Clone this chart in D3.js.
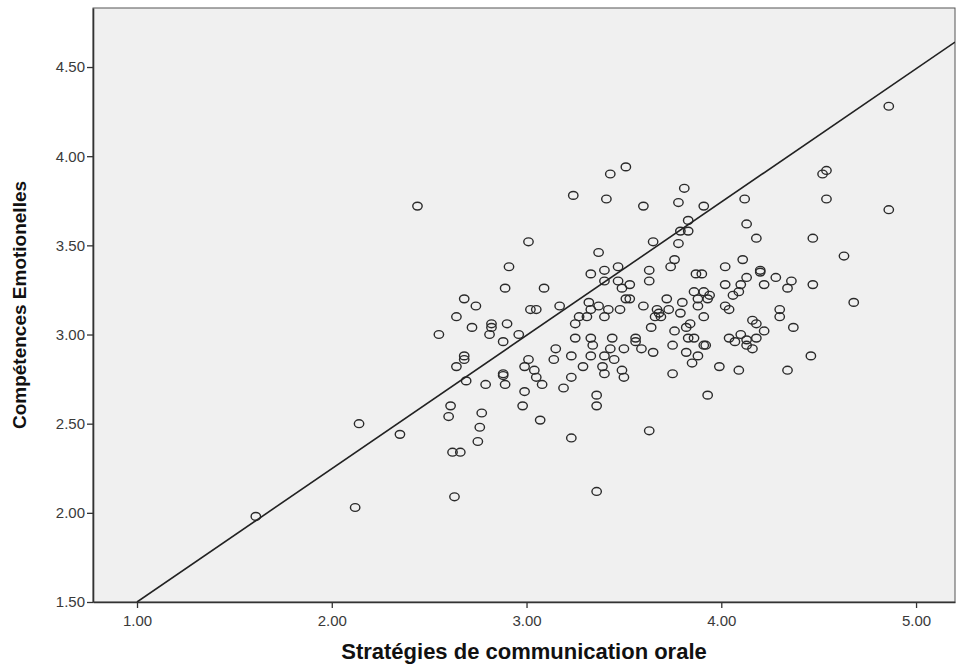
<!DOCTYPE html>
<html>
<head>
<meta charset="utf-8">
<script src="https://cdn.jsdelivr.net/npm/d3@7"></script>
<style>
  body { margin: 0; background: #fff; }
  svg { display: block; font-family: "Liberation Sans", Arial, sans-serif; }
</style>
</head>
<body>
<div id="chart"></div>
<script>
// Stratégies de communication orale (x) vs Compétences Emotionelles (y)
const strategies = [
  1.61, 2.12, 2.14, 2.35, 2.63, 2.61, 2.60, 2.77, 2.76, 2.75, 2.62, 2.66, 2.98, 2.44, 3.01, 2.91,
  2.89, 2.68, 2.74, 2.64, 2.72, 2.82, 2.82, 2.81, 2.90, 2.96, 2.88, 2.55, 2.68, 2.68, 2.64, 2.88,
  2.88, 2.99, 3.01, 2.69, 2.79, 2.89, 2.99, 3.24, 3.43, 3.51, 3.41, 3.60, 3.81, 3.78, 3.91, 3.83,
  3.79, 3.83, 3.65, 3.78, 4.54, 4.52, 4.54, 4.86, 4.12, 4.13, 4.18, 4.47, 4.86, 3.37, 3.47, 3.40,
  3.33, 3.76, 3.74, 3.63, 3.63, 3.40, 3.47, 3.49, 3.53, 3.09, 3.17, 3.02, 3.05, 3.32, 3.37, 3.42,
  3.33, 3.40, 3.48, 3.51, 3.53, 3.60, 3.72, 3.80, 3.73, 3.67, 3.68, 3.66, 3.69, 3.79, 3.27, 3.31,
  3.25, 3.64, 3.76, 3.82, 3.84, 3.25, 3.33, 3.34, 3.44, 3.43, 3.56, 3.56, 3.50, 3.59, 3.75, 3.83,
  3.86, 3.92, 3.91, 3.82, 3.65, 3.15, 3.14, 3.23, 3.33, 3.40, 3.45, 3.85, 3.88, 3.87, 3.90, 4.02,
  4.02, 3.86, 3.91, 3.94, 3.93, 3.88, 3.88, 4.02, 4.04, 3.91, 4.04, 4.63, 4.11, 4.20, 4.20, 4.13,
  4.28, 4.36, 4.34, 4.22, 4.47, 4.10, 4.09, 4.06, 4.68, 4.30, 4.30, 4.16, 4.18, 4.22, 4.37, 4.10,
  4.07, 4.13, 4.18, 4.13, 4.16, 4.46, 3.04, 3.05, 3.08, 3.19, 3.23, 3.29, 3.39, 3.40, 3.49, 3.50,
  3.36, 3.36, 3.07, 3.23, 3.63, 3.75, 3.99, 3.93, 4.09, 4.34, 3.36
];
const competences = [
  1.98, 2.03, 2.50, 2.44, 2.09, 2.60, 2.54, 2.56, 2.48, 2.40, 2.34, 2.34, 2.60, 3.72, 3.52, 3.38,
  3.26, 3.20, 3.16, 3.10, 3.04, 3.06, 3.04, 3.00, 3.06, 3.00, 2.96, 3.00, 2.88, 2.86, 2.82, 2.78,
  2.77, 2.82, 2.86, 2.74, 2.72, 2.72, 2.68, 3.78, 3.90, 3.94, 3.76, 3.72, 3.82, 3.74, 3.72, 3.64,
  3.58, 3.58, 3.52, 3.51, 3.92, 3.90, 3.76, 3.70, 3.76, 3.62, 3.54, 3.54, 4.28, 3.46, 3.38, 3.36,
  3.34, 3.42, 3.38, 3.36, 3.30, 3.30, 3.30, 3.26, 3.28, 3.26, 3.16, 3.14, 3.14, 3.18, 3.16, 3.14,
  3.14, 3.10, 3.14, 3.20, 3.20, 3.16, 3.20, 3.18, 3.14, 3.14, 3.12, 3.10, 3.10, 3.12, 3.10, 3.10,
  3.06, 3.04, 3.02, 3.04, 3.06, 2.98, 2.98, 2.94, 2.98, 2.92, 2.98, 2.96, 2.92, 2.92, 2.94, 2.98,
  2.98, 2.94, 2.94, 2.90, 2.90, 2.92, 2.86, 2.88, 2.88, 2.88, 2.86, 2.84, 2.88, 3.34, 3.34, 3.38,
  3.28, 3.24, 3.24, 3.22, 3.20, 3.20, 3.16, 3.16, 3.14, 3.10, 2.98, 3.44, 3.42, 3.36, 3.35, 3.32,
  3.32, 3.30, 3.26, 3.28, 3.28, 3.28, 3.24, 3.22, 3.18, 3.14, 3.10, 3.08, 3.06, 3.02, 3.04, 3.00,
  2.96, 2.97, 2.98, 2.94, 2.92, 2.88, 2.80, 2.76, 2.72, 2.70, 2.76, 2.82, 2.82, 2.78, 2.80, 2.76,
  2.66, 2.60, 2.52, 2.42, 2.46, 2.78, 2.82, 2.66, 2.80, 2.80, 2.12
];

// reference line drawn across the plot
const lineX = [1.0, 5.2];
const lineY = [1.5, 4.64];

const xTicks = [1, 2, 3, 4, 5];
const yTicks = [1.5, 2, 2.5, 3, 3.5, 4, 4.5];
const xTitle = 'Stratégies de communication orale';
const yTitle = 'Compétences Emotionelles';

const W = 956, H = 666;
const margin = { top: 8, right: 1, bottom: 64, left: 93 };
const width = W - margin.left - margin.right;
const height = H - margin.top - margin.bottom;

const svg = d3.select('#chart').append('svg')
    .attr('width', W)
    .attr('height', H);

const g = svg.append('g')
    .attr('transform', `translate(${margin.left},${margin.top})`);

const x = d3.scaleLinear().domain([0.774, 5.2]).range([0, width]);
const y = d3.scaleLinear().domain([1.5, 4.831]).range([height, 0]);

// plot background
g.append('rect')
    .attr('width', width)
    .attr('height', height)
    .attr('fill', '#f0f0f0')
    .attr('stroke', '#555')
    .attr('stroke-width', 1);

g.append('clipPath').attr('id', 'plotClip')
    .append('rect').attr('width', width).attr('height', height);

// points
const points = strategies.map((v, i) => ({ x: v, y: competences[i] }));
g.append('g')
    .selectAll('ellipse')
    .data(points)
    .enter()
    .append('ellipse')
    .attr('cx', d => x(d.x))
    .attr('cy', d => y(d.y))
    .attr('rx', 4.7)
    .attr('ry', 3.9)
    .attr('fill', 'none')
    .attr('stroke', '#2a2a2a')
    .attr('stroke-width', 1.4);

// line
const line = d3.line().x(d => x(d[0])).y(d => y(d[1]));
g.append('path')
    .datum(lineX.map((v, i) => [v, lineY[i]]))
    .attr('clip-path', 'url(#plotClip)')
    .attr('fill', 'none')
    .attr('stroke', '#222')
    .attr('stroke-width', 1.6)
    .attr('d', line);

// axes
const xAxis = g.append('g')
    .attr('transform', `translate(0,${height})`)
    .call(d3.axisBottom(x).tickValues(xTicks).tickFormat(d3.format('.2f')).tickSize(6).tickSizeOuter(0));

const yAxis = g.append('g')
    .call(d3.axisLeft(y).tickValues(yTicks).tickFormat(d3.format('.2f')).tickSize(6).tickSizeOuter(0));

[xAxis, yAxis].forEach(a => {
    a.select('.domain').attr('stroke', '#333').attr('stroke-width', 1.6);
    a.selectAll('.tick line').attr('stroke', '#333').attr('stroke-width', 1.3);
    a.selectAll('.tick text')
        .attr('fill', '#3a3a3a')
        .style('font-size', '15px')
        .style('font-family', '"Liberation Sans", Arial, sans-serif');
});
xAxis.selectAll('.tick text').attr('dy', '0.71em').attr('y', 13);
yAxis.selectAll('.tick text').attr('x', -8);

// titles
svg.append('text')
    .attr('x', margin.left + width / 2)
    .attr('y', 659)
    .attr('text-anchor', 'middle')
    .style('font-size', '22px')
    .style('font-weight', 'bold')
    .attr('fill', '#111')
    .text(xTitle);

svg.append('text')
    .attr('transform', `translate(26,${margin.top + height / 2}) rotate(-90)`)
    .attr('text-anchor', 'middle')
    .style('font-size', '19px')
    .style('font-weight', 'bold')
    .attr('fill', '#111')
    .text(yTitle);
</script>
</body>
</html>
